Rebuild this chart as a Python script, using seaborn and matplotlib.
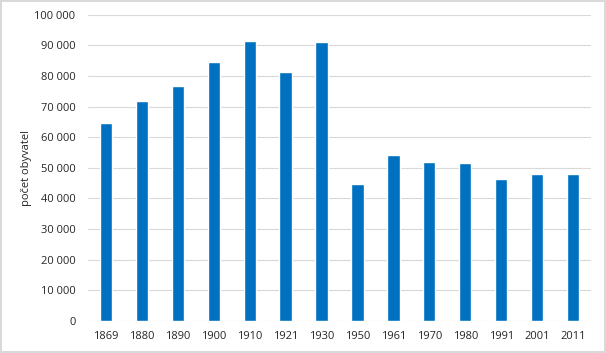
import numpy as np
import pandas as pd
import matplotlib
matplotlib.use("Agg")
import matplotlib.pyplot as plt
import seaborn as sns
from matplotlib.ticker import FuncFormatter

roky = ["1869", "1880", "1890", "1900", "1910", "1921", "1930",
        "1950", "1961", "1970", "1980", "1991", "2001", "2011"]
obyvatel = [64600, 71800, 76700, 84500, 91400, 81300, 91000,
            44700, 54200, 51900, 51600, 46400, 48000, 48000]

df = pd.DataFrame({"rok": roky, "obyvatel": obyvatel})

sns.set_style("white")
plt.rcParams["font.family"] = ["Open Sans", "DejaVu Sans"]

fig = plt.figure(figsize=(6.06, 3.53), dpi=100)
fig.patch.set_edgecolor("#D9D9D9")
fig.patch.set_linewidth(1.5)
ax = fig.add_axes([88 / 606, 1 - 321 / 353, 503 / 606, (321 - 14.7) / 353])

sns.barplot(data=df, x="rok", y="obyvatel", color="#0070C0", width=0.34,
            saturation=1, ax=ax, zorder=3)

ax.set_ylim(0, 100000)
ax.set_yticks(np.arange(0, 100001, 10000))
ax.yaxis.set_major_formatter(FuncFormatter(lambda v, p: f"{int(v):,}".replace(",", " ")))
ax.grid(axis="y", color="#D9D9D9", linewidth=0.8, zorder=0)
for s in ax.spines.values():
    s.set_visible(False)
ax.tick_params(axis="both", length=0, labelsize=8, colors="#262626")
ax.tick_params(axis="x", pad=7)
ax.tick_params(axis="y", pad=9)
ax.set_xlabel("")
ax.set_ylabel("počet obyvatel", fontsize=8, color="#262626")
ax.yaxis.set_label_coords(-0.111, 0.5)

fig.savefig("out.png", dpi=100, edgecolor=fig.get_edgecolor())
